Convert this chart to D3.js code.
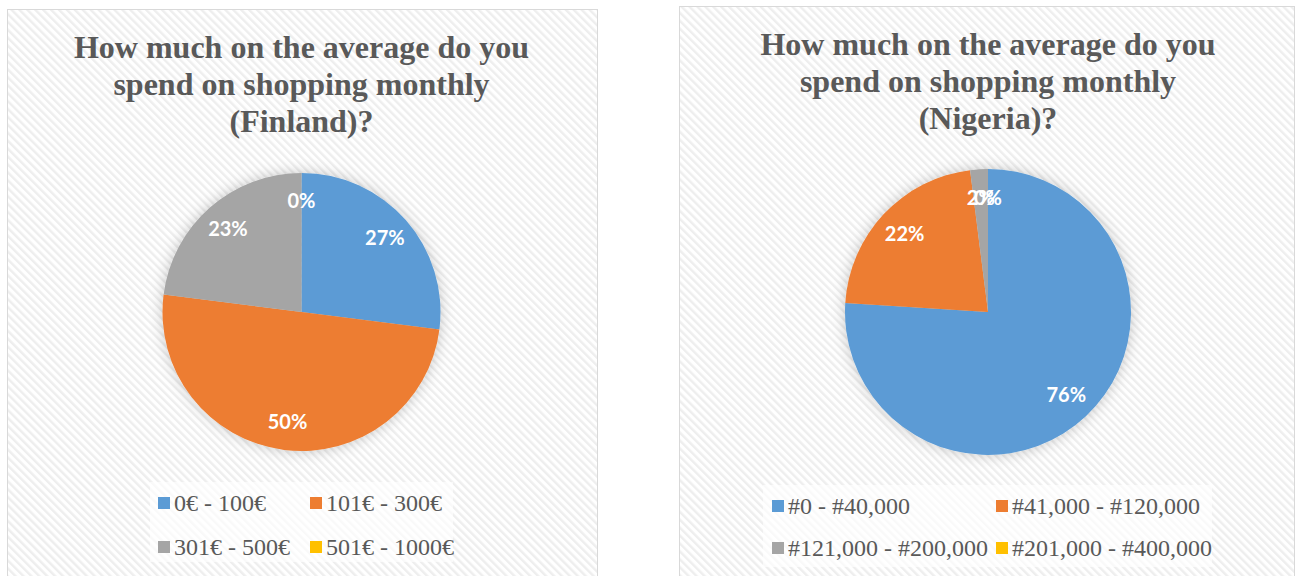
<!DOCTYPE html>
<html>
<head>
<meta charset="utf-8">
<script src="https://cdn.jsdelivr.net/npm/d3@7"></script>
<style>
  body { margin: 0; background: #fff; }
  svg { display: block; }
</style>
</head>
<body>
<div id="chart"></div>
<script>
// data
var colors = ["#5b9bd5", "#ed7d31", "#a5a5a5", "#ffc000"];

var finlandTitle = ["How much on the average do you", "spend on shopping monthly", "(Finland)?"];
var finlandCats = ["0€ - 100€", "101€ - 300€", "301€ - 500€", "501€ - 1000€"];
var finlandVals = [27, 50, 23, 0];

var nigeriaTitle = ["How much on the average do you", "spend on shopping monthly", "(Nigeria)?"];
var nigeriaCats = ["#0 - #40,000", "#41,000 - #120,000", "#121,000 - #200,000", "#201,000 - #400,000"];
var nigeriaVals = [76, 22, 2, 0];

var width = 1296;
var height = 576;

var svg = d3.select('#chart')
  .append('svg')
    .attr('width', width)
    .attr('height', height);

var defs = svg.append('defs');

var pattern = defs.append('pattern')
    .attr('id', 'stripes')
    .attr('patternUnits', 'userSpaceOnUse')
    .attr('width', 5.6)
    .attr('height', 5.6)
    .attr('patternTransform', 'rotate(-45)');
pattern.append('rect')
    .attr('width', 5.6).attr('height', 5.6).attr('fill', '#ffffff');
pattern.append('rect')
    .attr('width', 2.4).attr('height', 5.6).attr('fill', '#eeeeee');

var shadow = defs.append('filter')
    .attr('id', 'glow')
    .attr('x', '-30%').attr('y', '-30%')
    .attr('width', '160%').attr('height', '160%');
shadow.append('feDropShadow')
    .attr('dx', 0).attr('dy', 0)
    .attr('stdDeviation', 7)
    .attr('flood-color', '#000')
    .attr('flood-opacity', 0.22);

var panels = [
    {title: finlandTitle, cats: finlandCats, vals: finlandVals,
     box: [7, 9, 590, 600], cx: 301.5, cy: 312, r: 139, titleY: 58,
     legendX: 158, legendCol: 152, legendY: 503, legendRow: 44, legendBox: [150, 482, 303, 80]},
    {title: nigeriaTitle, cats: nigeriaCats, vals: nigeriaVals,
     box: [679, 6, 615, 600], cx: 988, cy: 312, r: 143, titleY: 55,
     legendX: 772, legendCol: 224, legendY: 506, legendRow: 42, legendBox: [763, 485, 449, 82]}
];

panels.forEach(drawPanel);

function drawPanel(p) {
    var g = svg.append('g');

    g.append('rect')
        .attr('x', p.box[0] + 0.5)
        .attr('y', p.box[1] + 0.5)
        .attr('width', p.box[2])
        .attr('height', p.box[3])
        .attr('fill', 'url(#stripes)')
        .attr('stroke', '#d9d9d9')
        .attr('stroke-width', 1);

    g.append('text')
        .attr('text-anchor', 'middle')
        .attr('font-family', '"Liberation Serif", "Times New Roman", serif')
        .attr('font-weight', 'bold')
        .attr('font-size', '32px')
        .attr('fill', '#595959')
      .selectAll('tspan')
      .data(p.title)
      .enter()
      .append('tspan')
        .attr('x', p.cx)
        .attr('y', (d, i) => p.titleY + i * 37)
        .text(d => d);

    var pie = d3.pie()
        .sort(null)
        .value(d => d);

    var arcs = pie(p.vals);

    var arc = d3.arc()
        .innerRadius(0)
        .outerRadius(p.r);

    var labelArc = d3.arc()
        .innerRadius(p.r * 0.8)
        .outerRadius(p.r * 0.8);

    var pieG = g.append('g')
        .attr('transform', `translate(${p.cx},${p.cy})`);

    pieG.append('g')
        .attr('filter', 'url(#glow)')
      .selectAll('path')
      .data(arcs)
      .enter()
      .append('path')
        .attr('d', arc)
        .attr('fill', (d, i) => colors[i]);

    // Excel leaves the tiny slice labels on top of each other, kept as is
    pieG.selectAll('.lbl')
      .data(arcs)
      .enter()
      .append('text')
        .attr('class', 'lbl')
        .attr('transform', d => `translate(${labelArc.centroid(d)})`)
        .attr('text-anchor', 'middle')
        .attr('dy', '0.35em')
        .attr('font-family', 'Lato, "Open Sans", sans-serif')
        .attr('font-weight', 'bold')
        .attr('font-size', '20px')
        .attr('fill', '#ffffff')
        .text(d => d.data + '%');

    // legend
    var lb = p.legendBox;
    g.append('rect')
        .attr('x', lb[0]).attr('y', lb[1])
        .attr('width', lb[2]).attr('height', lb[3])
        .attr('fill', '#ffffff')
        .attr('fill-opacity', 0.65);

    var item = g.selectAll('.leg')
      .data(p.cats)
      .enter()
      .append('g')
        .attr('class', 'leg')
        .attr('transform', (d, i) => `translate(${p.legendX + (i % 2) * p.legendCol},${p.legendY + Math.floor(i / 2) * p.legendRow})`);

    item.append('rect')
        .attr('x', 0)
        .attr('y', -6)
        .attr('width', 12)
        .attr('height', 12)
        .attr('fill', (d, i) => colors[i]);

    item.append('text')
        .attr('x', 16)
        .attr('dy', '0.35em')
        .attr('font-family', '"Liberation Serif", "Times New Roman", serif')
        .attr('font-size', '24px')
        .attr('fill', '#595959')
        .text(d => d);
}
</script>
</body>
</html>
